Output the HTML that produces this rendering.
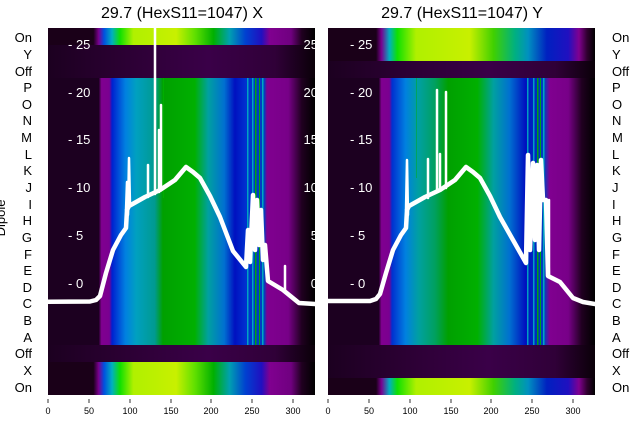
<!DOCTYPE html>
<html><head><meta charset="utf-8"><style>
html,body{margin:0;padding:0;background:#fff;}
svg{display:block;font-family:"Liberation Sans","DejaVu Sans",sans-serif;}
</style></head><body>
<svg width="640" height="440" viewBox="0 0 640 440" xmlns="http://www.w3.org/2000/svg">
<defs>
<linearGradient id="brL" x1="0" x2="1" y1="0" y2="0">
<stop offset="0" stop-color="#1a0018"/><stop offset=".17" stop-color="#1a0018"/><stop offset=".19" stop-color="#7a0090"/><stop offset=".21" stop-color="#0050e0"/><stop offset=".24" stop-color="#00b0c0"/><stop offset=".27" stop-color="#10e000"/><stop offset=".32" stop-color="#b0f000"/><stop offset=".48" stop-color="#c8f000"/><stop offset=".55" stop-color="#60e000"/><stop offset=".62" stop-color="#00b000"/><stop offset=".68" stop-color="#00a0b0"/><stop offset=".74" stop-color="#0040d0"/><stop offset=".8" stop-color="#2010c0"/><stop offset=".83" stop-color="#800090"/><stop offset=".91" stop-color="#700080"/><stop offset=".95" stop-color="#200020"/><stop offset="1" stop-color="#000"/>
</linearGradient>
<linearGradient id="mnL" x1="0" x2="1" y1="0" y2="0">
<stop offset="0" stop-color="#1c0020"/><stop offset=".19" stop-color="#1c0020"/><stop offset=".2" stop-color="#800090"/><stop offset=".23" stop-color="#7a0090"/><stop offset=".24" stop-color="#0020d0"/><stop offset=".29" stop-color="#0080e0"/><stop offset=".33" stop-color="#00a0c0"/><stop offset=".4" stop-color="#009a90"/><stop offset=".43" stop-color="#00a000"/><stop offset=".55" stop-color="#00b000"/><stop offset=".6" stop-color="#00a0a0"/><stop offset=".66" stop-color="#0070d0"/><stop offset=".7" stop-color="#0010c0"/><stop offset=".74" stop-color="#0030d0"/><stop offset=".81" stop-color="#0040c0"/><stop offset=".82" stop-color="#800090"/><stop offset=".9" stop-color="#780088"/><stop offset=".95" stop-color="#200020"/><stop offset="1" stop-color="#000"/>
</linearGradient>
<linearGradient id="dk" x1="0" x2="1" y1="0" y2="0">
<stop offset="0" stop-color="#1c0020"/><stop offset=".3" stop-color="#2c0034"/><stop offset=".6" stop-color="#3a0048"/><stop offset=".85" stop-color="#300038"/><stop offset="1" stop-color="#0a0008"/>
</linearGradient>
<linearGradient id="brR" x1="0" x2="1" y1="0" y2="0">
<stop offset="0" stop-color="#1a0018"/><stop offset=".18" stop-color="#1a0018"/><stop offset=".2" stop-color="#7a0090"/><stop offset=".23" stop-color="#00b0c0"/><stop offset=".26" stop-color="#10e000"/><stop offset=".33" stop-color="#b0f000"/><stop offset=".53" stop-color="#c8f000"/><stop offset=".62" stop-color="#40d000"/><stop offset=".7" stop-color="#00b080"/><stop offset=".75" stop-color="#0090c0"/><stop offset=".82" stop-color="#0020c0"/><stop offset=".9" stop-color="#2010c0"/><stop offset=".94" stop-color="#800090"/><stop offset=".97" stop-color="#300030"/><stop offset="1" stop-color="#000"/>
</linearGradient>
<linearGradient id="mnR" x1="0" x2="1" y1="0" y2="0">
<stop offset="0" stop-color="#1c0020"/><stop offset=".19" stop-color="#1c0020"/><stop offset=".2" stop-color="#800090"/><stop offset=".23" stop-color="#7a0090"/><stop offset=".24" stop-color="#0030d0"/><stop offset=".29" stop-color="#0080e0"/><stop offset=".34" stop-color="#00a0a0"/><stop offset=".4" stop-color="#00a060"/><stop offset=".45" stop-color="#00a000"/><stop offset=".56" stop-color="#00b000"/><stop offset=".62" stop-color="#00a0a0"/><stop offset=".68" stop-color="#0070d0"/><stop offset=".74" stop-color="#0010c0"/><stop offset=".81" stop-color="#0040c0"/><stop offset=".83" stop-color="#800090"/><stop offset=".9" stop-color="#780088"/><stop offset=".95" stop-color="#200020"/><stop offset="1" stop-color="#000"/>
</linearGradient>
<clipPath id="cL"><rect x="48" y="28" width="267" height="367"/></clipPath>
<clipPath id="cR"><rect x="328" y="28" width="267" height="367"/></clipPath>
</defs>

<text x="182" y="18" font-size="16" text-anchor="middle" fill="#000">29.7 (HexS11=1047) X</text>
<text x="462" y="18" font-size="16" text-anchor="middle" fill="#000">29.7 (HexS11=1047) Y</text>

<g clip-path="url(#cL)">
<rect x="48" y="28" width="267" height="17" fill="url(#brL)"/>
<rect x="48" y="45" width="267" height="33" fill="url(#dk)"/>
<rect x="48" y="78" width="267" height="267" fill="url(#mnL)"/>
<rect x="48" y="345" width="267" height="17" fill="url(#dk)"/>
<rect x="48" y="362" width="267" height="33" fill="url(#brL)"/>
<g fill="#00c0c0" opacity=".8"><rect x="247" y="78" width="1.5" height="267"/><rect x="252" y="78" width="1.5" height="267"/><rect x="262" y="78" width="1.5" height="267"/></g>
<g fill="#00b000" opacity=".9"><rect x="255" y="78" width="1.5" height="267"/><rect x="259" y="78" width="1" height="267"/><rect x="163" y="78" width="1" height="120"/></g>
<g fill="none" stroke="#fff" stroke-width="4.5" stroke-linejoin="round" stroke-linecap="round">
<path d="M48,301.8 L90,301.5 L96,300 L100,296 L106,273 L113,250 L121,235 L126,228 L127,210 L129,206 L145,197 L160,190 L175,180 L186,167 L193,172 L200,178 L210,196 L220,217 L233,251 L246,267 L248,230 L250,262 L253,195 L255,250 L257,200 L259,245 L261,210 L263,260 L265,245 L268,281 L283,290 L299,303 L315,304"/>
<path d="M126,210 L127,182 L128,215 L129,158 L130,205" stroke-width="2.5"/>
<path d="M148,197 L148,165 M155,194 L155,28 M159,192 L159,130 M161,190 L161,105 M285,290 L285,266" stroke-width="2.5"/>
</g>
</g>
<g fill="#fff" font-size="13">
<text x="68" y="49">- 25</text><text x="68" y="97">- 20</text><text x="68" y="144">- 15</text><text x="68" y="192">- 10</text><text x="68" y="240">- 5</text><text x="68" y="288">- 0</text>
</g>
<g fill="#fff" font-size="13" text-anchor="end" clip-path="url(#cL)">
<text x="318" y="49">25</text><text x="318" y="97">20</text><text x="318" y="144">15</text><text x="318" y="192">10</text><text x="318" y="240">5</text><text x="318" y="288">0</text>
</g>

<g clip-path="url(#cR)">
<rect x="328" y="28" width="267" height="33" fill="url(#brR)"/>
<rect x="328" y="61" width="267" height="17" fill="url(#dk)"/>
<rect x="328" y="78" width="267" height="267" fill="url(#mnR)"/>
<rect x="328" y="345" width="267" height="33" fill="url(#dk)"/>
<rect x="328" y="378" width="267" height="17" fill="url(#brR)"/>
<g fill="#00c0c0" opacity=".8"><rect x="527" y="78" width="1.5" height="267"/><rect x="533" y="78" width="1.5" height="267"/><rect x="543" y="78" width="1.5" height="267"/></g>
<g fill="#00b000" opacity=".9"><rect x="537" y="78" width="1.5" height="267"/><rect x="540" y="78" width="1" height="267"/><rect x="416" y="78" width="0.8" height="100" opacity=".6"/></g>
<g fill="none" stroke="#fff" stroke-width="4.5" stroke-linejoin="round" stroke-linecap="round">
<path d="M328,301 L370,301 L376,299 L380,294 L386,273 L393,250 L401,235 L406,228 L407,210 L409,206 L425,197 L440,190 L455,180 L466,167 L473,172 L480,178 L490,196 L500,217 L513,240 L526,263 L528,155 L530,250 L533,163 L535,240 L537,165 L539,250 L541,160 L543,200 L546,200 L548,276 L560,282 L573,298 L583,302 L595,304"/>
<path d="M406,210 L407,160 L408,215 M428,198 L428,159 M437,192 L437,90 M440,190 L440,154 M446,188 L446,92 M549,200 L549,276" stroke-width="2.5"/>
</g>
</g>
<g fill="#fff" font-size="13">
<text x="350" y="49">- 25</text><text x="350" y="97">- 20</text><text x="350" y="144">- 15</text><text x="350" y="192">- 10</text><text x="350" y="240">- 5</text><text x="350" y="288">- 0</text>
</g>

<g font-size="13" fill="#000" text-anchor="end">
<text x="32" y="42">On</text><text x="32" y="59">Y</text><text x="32" y="76">Off</text><text x="32" y="92">P</text><text x="32" y="109">O</text><text x="32" y="125">N</text><text x="32" y="142">M</text><text x="32" y="159">L</text><text x="32" y="175">K</text><text x="32" y="192">J</text><text x="32" y="209">I</text><text x="32" y="225">H</text><text x="32" y="242">G</text><text x="32" y="259">F</text><text x="32" y="275">E</text><text x="32" y="292">D</text><text x="32" y="308">C</text><text x="32" y="325">B</text><text x="32" y="342">A</text><text x="32" y="358">Off</text><text x="32" y="375">X</text><text x="32" y="392">On</text>
</g>
<g font-size="13" fill="#000">
<text x="612" y="42">On</text><text x="612" y="59">Y</text><text x="612" y="76">Off</text><text x="612" y="92">P</text><text x="612" y="109">O</text><text x="612" y="125">N</text><text x="612" y="142">M</text><text x="612" y="159">L</text><text x="612" y="175">K</text><text x="612" y="192">J</text><text x="612" y="209">I</text><text x="612" y="225">H</text><text x="612" y="242">G</text><text x="612" y="259">F</text><text x="612" y="275">E</text><text x="612" y="292">D</text><text x="612" y="308">C</text><text x="612" y="325">B</text><text x="612" y="342">A</text><text x="612" y="358">Off</text><text x="612" y="375">X</text><text x="612" y="392">On</text>
</g>
<text transform="translate(5,218) rotate(-90)" font-size="13" text-anchor="middle" fill="#000">Dipole</text>

<g stroke="#000" stroke-width="0.8">
<line x1="48" y1="399" x2="48" y2="403"/><line x1="89" y1="399" x2="89" y2="403"/><line x1="130" y1="399" x2="130" y2="403"/><line x1="171" y1="399" x2="171" y2="403"/><line x1="211" y1="399" x2="211" y2="403"/><line x1="252" y1="399" x2="252" y2="403"/><line x1="293" y1="399" x2="293" y2="403"/>
<line x1="328" y1="399" x2="328" y2="403"/><line x1="369" y1="399" x2="369" y2="403"/><line x1="410" y1="399" x2="410" y2="403"/><line x1="451" y1="399" x2="451" y2="403"/><line x1="491" y1="399" x2="491" y2="403"/><line x1="532" y1="399" x2="532" y2="403"/><line x1="573" y1="399" x2="573" y2="403"/>
</g>
<g font-size="9" fill="#000" text-anchor="middle">
<text x="48" y="414">0</text><text x="89" y="414">50</text><text x="130" y="414">100</text><text x="171" y="414">150</text><text x="211" y="414">200</text><text x="252" y="414">250</text><text x="293" y="414">300</text>
<text x="328" y="414">0</text><text x="369" y="414">50</text><text x="410" y="414">100</text><text x="451" y="414">150</text><text x="491" y="414">200</text><text x="532" y="414">250</text><text x="573" y="414">300</text>
</g>
</svg>
</body></html>
